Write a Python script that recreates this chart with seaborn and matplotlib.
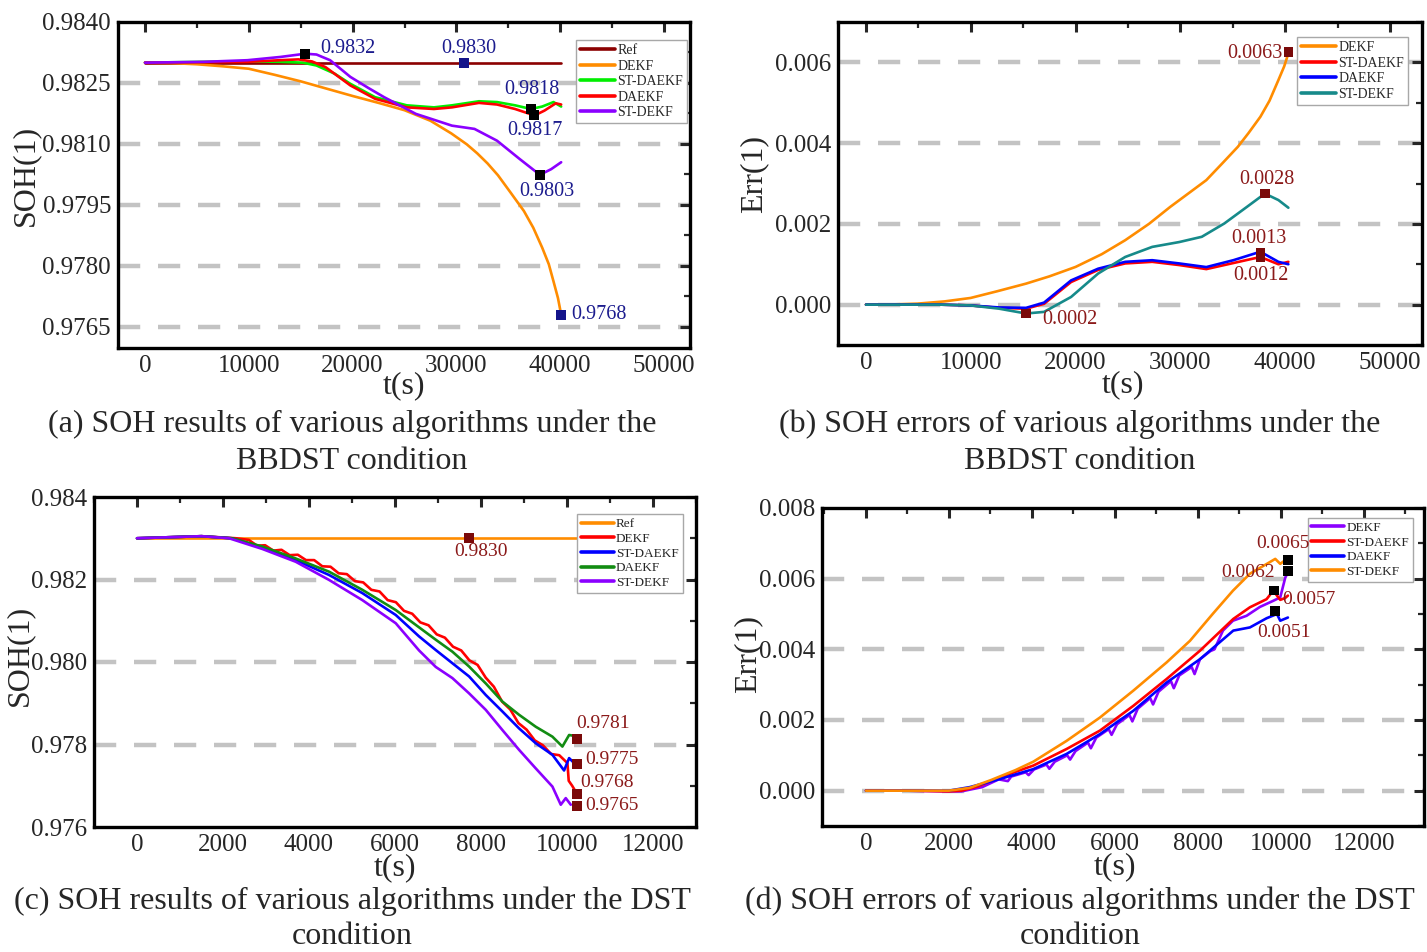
import numpy as np
import pandas as pd
import matplotlib
matplotlib.use("Agg")
import matplotlib.pyplot as plt
import seaborn as sns
from matplotlib.ticker import MultipleLocator, FormatStrFormatter

sns.set_style("white")
plt.rcParams['font.family'] = ['Liberation Serif', 'DejaVu Serif']
plt.rcParams['mathtext.fontset'] = 'stix'

# ---------------- Panel (a): SOH, BBDST ----------------
a_ref_t = [0, 40100]
a_ref_v = [0.98300, 0.98300]
a_dekf_t = [0, 2500, 5000, 7500, 10000, 12500, 15000, 17500, 20000, 22500, 25000, 27500, 29500,
            31000, 32000, 33000, 34000, 35200, 36500, 37400, 38260, 38900, 39350, 39780, 40090]
a_dekf_v = [0.98300, 0.98299, 0.98296, 0.98291, 0.98285, 0.98270, 0.98254, 0.98236, 0.98218, 0.98201,
            0.98183, 0.98157, 0.98126, 0.98099, 0.98077, 0.98052, 0.98023, 0.97981, 0.97935, 0.97894,
            0.97845, 0.97804, 0.97762, 0.97721, 0.97680]
a_stdaekf_t = [0, 5650, 9870, 13000, 15200, 16520, 18260, 19780, 22170, 25220, 27830, 29570, 32170,
               33910, 35650, 37180, 38260, 39350, 40090]
a_stdaekf_v = [0.98300, 0.98302, 0.98303, 0.98302, 0.98300, 0.98293, 0.98273, 0.98248, 0.98215, 0.98195,
               0.98190, 0.98195, 0.98205, 0.98203, 0.98195, 0.98186, 0.98192, 0.98203, 0.98192]
a_daekf_t = [0, 5650, 9870, 13000, 14780, 16090, 17390, 19780, 22170, 25220, 27830, 29570, 32170,
             33910, 35650, 37520, 38480, 39570, 40090]
a_daekf_v = [0.98300, 0.98301, 0.98302, 0.98306, 0.98308, 0.98303, 0.98289, 0.98244, 0.98211, 0.98190,
             0.98186, 0.98190, 0.98201, 0.98197, 0.98186, 0.98170, 0.98182, 0.98200, 0.98197]
a_stdekf_t = [0, 5650, 9870, 13040, 15440, 16520, 17830, 19780, 21500, 23040, 26090, 29570, 31740,
              33910, 36090, 38040, 39130, 40090]
a_stdekf_v = [0.98300, 0.98302, 0.98306, 0.98314, 0.98322, 0.98320, 0.98306, 0.98265, 0.98238, 0.98215,
              0.98174, 0.98145, 0.98137, 0.98108, 0.98063, 0.98024, 0.98038, 0.98055]
a_mark_t = [15440, 30750, 37180, 37520, 38040, 40090]
a_mark_v = [0.98322, 0.98300, 0.98186, 0.98170, 0.98024, 0.97680]
a_mark_c = ['black', '#14148a', 'black', 'black', 'black', '#14148a']
a_lab = ['0.9832', '0.9830', '0.9818', '0.9817', '0.9803', '0.9768']
a_lab_t = [16870, 31230, 37310, 37600, 38660, 41070]
a_lab_v = [0.98336, 0.98334, 0.98233, 0.98132, 0.97982, 0.97680]
a_lab_ha = ['left', 'center', 'center', 'center', 'center', 'left']

# ---------------- Panel (b): Err, BBDST ----------------
b_dekf_t = [0, 2500, 4950, 7500, 9980, 12500, 15270, 17500, 20000, 22500, 24730, 27000, 29030, 31000,
            32470, 34000, 35480, 36500, 37630, 38500, 39350, 39900, 40300]
b_dekf_v = [0.0, 0.000005, 0.000025, 0.00008, 0.000165, 0.00033, 0.00052, 0.00070, 0.000934, 0.00125,
            0.001595, 0.00200, 0.002421, 0.00280, 0.003083, 0.00350, 0.003909, 0.00425, 0.004653,
            0.00505, 0.005562, 0.00590, 0.006223]
b_stdaekf_t = [0, 7000, 9980, 12690, 15270, 16990, 19570, 22150, 24730, 27310, 29890, 32470, 35050,
               37630, 39350, 40300]
b_stdaekf_v = [0.0, 0.0, -0.00002, -0.00008, -0.00010, 0.00002, 0.00056, 0.00086, 0.00102, 0.00106,
               0.00098, 0.00088, 0.00103, 0.00118, 0.00100, 0.00106]
b_daekf_t = [0, 7000, 9980, 12690, 15270, 16990, 19570, 22150, 24730, 27310, 29890, 32470, 35050,
             37630, 39350, 40300]
b_daekf_v = [0.0, 0.0, -0.00002, -0.00007, -0.00008, 0.00005, 0.00060, 0.00089, 0.00106, 0.00110,
             0.00102, 0.00093, 0.00110, 0.00131, 0.00106, 0.00100]
b_stdekf_t = [0, 7000, 9980, 12690, 15270, 16990, 19570, 22150, 24730, 27310, 29890, 32040, 34190,
              36340, 38060, 39350, 40300]
b_stdekf_v = [0.0, 0.0, -0.00002, -0.00010, -0.00022, -0.00018, 0.00019, 0.00077, 0.00118, 0.00143,
              0.00155, 0.00168, 0.00201, 0.00242, 0.00275, 0.00259, 0.00240]
b_mark_t = [40300, 38060, 37630, 37630, 15270]
b_mark_v = [0.00625, 0.00275, 0.00128, 0.00118, -0.00022]
b_lab = ['0.0063', '0.0028', '0.0013', '0.0012', '0.0002']
b_lab_t = [39780, 38250, 37500, 37680, 16790]
b_lab_v = [0.00622, 0.00309, 0.00163, 0.00072, -0.00037]
b_lab_ha = ['right', 'center', 'center', 'center', 'left']

# ---------------- Panel (c): SOH, DST ----------------
c_ref_t = [0, 10300]
c_ref_v = [0.98300, 0.98300]
c_dekf_t = [0, 1500, 2300, 2600, 2790, 2980, 3170, 3360, 3550, 3740, 3930, 4120, 4310, 4500, 4690,
            4880, 5070, 5260, 5450, 5640, 5830, 6020, 6210, 6400, 6590, 6780, 6970, 7160, 7350,
            7540, 7730, 7920, 8110, 8300, 8490, 8680, 8870, 9060, 9250, 9440, 9630, 9820, 9960,
            10010, 10040, 10120, 10200]
c_dekf_v = [0.98300, 0.98305, 0.98300, 0.98296, 0.98282, 0.98283, 0.98270, 0.98272, 0.98259, 0.98260,
            0.98247, 0.98247, 0.98232, 0.98231, 0.98215, 0.98213, 0.98196, 0.98193, 0.98175, 0.98171,
            0.98150, 0.98145, 0.98124, 0.98117, 0.98096, 0.98089, 0.98067, 0.98059, 0.98037, 0.98028,
            0.98004, 0.97993, 0.97962, 0.97940, 0.97904, 0.97885, 0.97852, 0.97836, 0.97810, 0.97798,
            0.97777, 0.97774, 0.97760, 0.97755, 0.97712, 0.97700, 0.97686]
c_stdaekf_t = [0, 1500, 2200, 2915, 3691, 4466, 5241, 6017, 6560, 6948, 7335, 7723, 8111, 8498, 8886,
               9274, 9661, 9932, 10049, 10166]
c_stdaekf_v = [0.98300, 0.98305, 0.98300, 0.98278, 0.98247, 0.98211, 0.98167, 0.98114, 0.98062, 0.98029,
               0.97997, 0.97965, 0.97920, 0.97880, 0.97839, 0.97803, 0.97775, 0.97737, 0.97767, 0.97755]
c_daekf_t = [0, 1500, 2200, 2915, 3691, 4466, 5241, 6017, 6560, 6948, 7335, 7723, 8111, 8498, 8886,
             9274, 9661, 9893, 10049, 10166]
c_daekf_v = [0.98300, 0.98305, 0.98300, 0.98280, 0.98251, 0.98219, 0.98175, 0.98126, 0.98084, 0.98054,
             0.98025, 0.97989, 0.97948, 0.97904, 0.97872, 0.97843, 0.97819, 0.97795, 0.97823, 0.97821]
c_stdekf_t = [0, 1500, 2140, 2915, 3691, 4466, 5241, 6017, 6560, 6948, 7335, 7723, 8111, 8498, 8886,
              9274, 9661, 9855, 9971, 10088]
c_stdekf_v = [0.98300, 0.98305, 0.98300, 0.98274, 0.98243, 0.98199, 0.98150, 0.98094, 0.98028, 0.97988,
              0.97961, 0.97924, 0.97884, 0.97835, 0.97787, 0.97742, 0.97698, 0.97654, 0.97670, 0.97654]
c_mark_t = [7720, 10235, 10235, 10235, 10235]
c_mark_v = [0.98300, 0.97813, 0.97753, 0.97680, 0.97651]
c_lab = ['0.9830', '0.9781', '0.9775', '0.9768', '0.9765']
c_lab_t = [8000, 10840, 10420, 10300, 10420]
c_lab_v = [0.98267, 0.97850, 0.97763, 0.97707, 0.97653]
c_lab_ha = ['center', 'center', 'left', 'left', 'left']

# ---------------- Panel (d): Err, DST ----------------
d_dekf_t = [0, 1000, 2000, 2300, 2800, 3200, 3420, 3500, 3850, 3920, 4050, 4350, 4420, 4550, 4850,
            4920, 5050, 5350, 5420, 5550, 5850, 5920, 6050, 6350, 6420, 6550, 6850, 6920, 7050,
            7350, 7420, 7550, 7850, 7920, 8050, 8300, 8400, 8604, 8845, 9174, 9495, 9810, 9985,
            10106, 10146]
d_dekf_v = [0.0, 0.0, -0.00002, -0.00002, 0.00010, 0.00032, 0.00027, 0.00040, 0.00052, 0.00044,
            0.00060, 0.00074, 0.00062, 0.00082, 0.00100, 0.00088, 0.00112, 0.00136, 0.00120, 0.00150,
            0.00174, 0.00158, 0.00188, 0.00214, 0.00196, 0.00232, 0.00262, 0.00244, 0.00280, 0.00310,
            0.00290, 0.00326, 0.00350, 0.00330, 0.00372, 0.00395, 0.00400, 0.00453, 0.00481, 0.00495,
            0.00520, 0.00537, 0.00547, 0.00603, 0.00612]
d_stdaekf_t = [0, 1000, 2000, 2300, 2700, 3229, 4033, 4836, 5639, 6443, 7246, 8049, 8853, 9254, 9656,
               9816, 9985, 10100, 10170]
d_stdaekf_v = [0.0, 0.0, -0.00002, 0.0, 0.00012, 0.00038, 0.00071, 0.00118, 0.00170, 0.00240, 0.00316,
               0.00396, 0.00486, 0.00519, 0.00542, 0.00566, 0.00540, 0.00545, 0.00552]
d_daekf_t = [0, 1000, 2000, 2500, 3229, 4033, 4836, 5639, 6443, 7246, 8049, 8853, 9254, 9656, 9905,
             9985, 10170]
d_daekf_v = [0.0, 0.0, 0.0, 0.00010, 0.00033, 0.00061, 0.00104, 0.00160, 0.00226, 0.00306, 0.00372,
             0.00453, 0.00462, 0.00488, 0.00500, 0.00481, 0.00490]
d_stdekf_t = [0, 1000, 2000, 2500, 3013, 3600, 4033, 4836, 5639, 6443, 7246, 7808, 8363, 8845, 9254,
              9664, 9865, 9985, 10146]
d_stdekf_v = [0.0, 0.0, 0.0, 0.00008, 0.00030, 0.00058, 0.00082, 0.00141, 0.00207, 0.00283, 0.00363,
              0.00424, 0.00501, 0.00566, 0.00614, 0.00642, 0.00656, 0.00642, 0.00656]
d_mark_t = [10170, 10170, 9830, 9860]
d_mark_v = [0.00653, 0.00622, 0.00566, 0.00509]
d_lab = ['0.0065', '0.0062', '0.0057', '0.0051']
d_lab_t = [10050, 9205, 10030, 10070]
d_lab_v = [0.00699, 0.00617, 0.00540, 0.00447]
d_lab_ha = ['center', 'center', 'left', 'center']

captions = [
    ("(a) SOH results of various algorithms under the", "BBDST condition"),
    ("(b) SOH errors of various algorithms under the", "BBDST condition"),
    ("(c) SOH results of various algorithms under the DST", "condition"),
    ("(d) SOH errors of various algorithms under the DST", "condition"),
]

# ---------------- Figure ----------------
W, H = 1427, 952
fig = plt.figure(figsize=(W / 100, H / 100), dpi=100)


def px_axes(l, r, t, b):
    return fig.add_axes([l / W, 1 - b / H, (r - l) / W, (b - t) / H])


ORANGE = '#ff8c00'
RED = '#ff0000'
BLUE = '#0000ff'
GREEN_BRIGHT = '#00ee00'
GREEN = '#128c12'
PURPLE = '#8b00ff'
DARKRED = '#8b0000'
TEAL = '#168a8a'
LAB_BLUE = '#1c1c8e'
LAB_RED = '#8b1a1a'
LW = 1.9


def style_axes(ax, xlim, ylim, xmaj, xmin, ymaj, ymin, yfmt, grid_vals):
    ax.set_xlim(*xlim)
    ax.set_ylim(*ylim)
    ax.xaxis.set_major_locator(MultipleLocator(xmaj))
    ax.xaxis.set_minor_locator(MultipleLocator(xmin))
    ax.yaxis.set_major_locator(MultipleLocator(ymaj))
    ax.yaxis.set_minor_locator(MultipleLocator(ymin))
    ax.yaxis.set_major_formatter(FormatStrFormatter(yfmt))
    ax.tick_params(which='major', direction='in', length=7, width=2.2, top=True, right=True,
                   labelsize=18, pad=5)
    ax.tick_params(which='minor', direction='in', length=4, width=1.6, top=True, right=True)
    for s in ax.spines.values():
        s.set_linewidth(2.4)
        s.set_color('black')
    for g in grid_vals:
        ax.axhline(g, color='#c3c3c3', lw=3.2, ls=(0, (5, 4)), zorder=0.5)


def line(ax, t, v, color, label):
    sns.lineplot(x=t, y=v, ax=ax, color=color, lw=LW, label=label, estimator=None, sort=False)


def legend(ax, anchor, fs=10.0):
    leg = ax.legend(loc='upper right', bbox_to_anchor=anchor, fontsize=fs, frameon=True,
                    fancybox=False, framealpha=1, edgecolor='#a8a8a8', handlelength=2.5,
                    handletextpad=0.15, borderpad=0.3, labelspacing=0.18, borderaxespad=0)
    leg.get_frame().set_linewidth(1.0)
    for h in leg.get_lines():
        h.set_linewidth(2.6)


def marks(ax, t, v, colors):
    sns.scatterplot(x=t, y=v, ax=ax, marker='s', s=48, color=colors, edgecolor='none',
                    zorder=5, legend=False)


def labels(ax, t, v, texts, has, color, fs):
    for x, y, s, ha in zip(t, v, texts, has):
        ax.text(x, y, s, ha=ha, va='center', color=color, fontsize=fs, zorder=6)


# (a)
ax = px_axes(118, 690, 22, 348)
line(ax, a_ref_t, a_ref_v, DARKRED, 'Ref')
line(ax, a_dekf_t, a_dekf_v, ORANGE, 'DEKF')
line(ax, a_stdaekf_t, a_stdaekf_v, GREEN_BRIGHT, 'ST-DAEKF')
line(ax, a_daekf_t, a_daekf_v, RED, 'DAEKF')
line(ax, a_stdekf_t, a_stdekf_v, PURPLE, 'ST-DEKF')
sns.scatterplot(x=a_mark_t, y=a_mark_v, ax=ax, marker='s', s=52, hue=a_lab,
                palette=dict(zip(a_lab, a_mark_c)), edgecolor='none', zorder=5, legend=False)
labels(ax, a_lab_t, a_lab_v, a_lab, a_lab_ha, LAB_BLUE, 14.5)
style_axes(ax, (-2600, 52500), (0.97598, 0.9840), 10000, 5000, 0.0015, 0.00075, '%.4f',
           [0.9765, 0.9780, 0.9795, 0.9810, 0.9825])
legend(ax, (0.995, 0.945))
ax.set_xlabel('t(s)', fontsize=23)
ax.set_ylabel('SOH(1)', fontsize=23)
ax.xaxis.set_label_coords(0.5, -0.07)
ax.yaxis.set_label_coords(-0.136, 0.53)

# (b)
ax = px_axes(838, 1422, 22, 345)
line(ax, b_dekf_t, b_dekf_v, ORANGE, 'DEKF')
line(ax, b_stdaekf_t, b_stdaekf_v, RED, 'ST-DAEKF')
line(ax, b_daekf_t, b_daekf_v, BLUE, 'DAEKF')
line(ax, b_stdekf_t, b_stdekf_v, TEAL, 'ST-DEKF')
marks(ax, b_mark_t, b_mark_v, '#7a0a0a')
labels(ax, b_lab_t, b_lab_v, b_lab, b_lab_ha, LAB_RED, 14.5)
style_axes(ax, (-2670, 53050), (-0.001, 0.007), 10000, 5000, 0.002, 0.001, '%.3f',
           [0.0, 0.002, 0.004, 0.006])
legend(ax, (0.976, 0.954))
ax.set_xlabel('t(s)', fontsize=23)
ax.set_ylabel('Err(1)', fontsize=23)
ax.xaxis.set_label_coords(0.488, -0.078)
ax.yaxis.set_label_coords(-0.12, 0.53)

# (c)
ax = px_axes(94, 696, 497, 827)
line(ax, c_ref_t, c_ref_v, ORANGE, 'Ref')
line(ax, c_dekf_t, c_dekf_v, RED, 'DEKF')
line(ax, c_stdaekf_t, c_stdaekf_v, BLUE, 'ST-DAEKF')
line(ax, c_daekf_t, c_daekf_v, GREEN, 'DAEKF')
line(ax, c_stdekf_t, c_stdekf_v, PURPLE, 'ST-DEKF')
marks(ax, c_mark_t, c_mark_v, '#7a0a0a')
labels(ax, c_lab_t, c_lab_v, c_lab, c_lab_ha, LAB_RED, 14)
style_axes(ax, (-1000, 13000), (0.976, 0.984), 2000, 1000, 0.002, 0.001, '%.3f',
           [0.978, 0.980, 0.982])
legend(ax, (0.978, 0.948), fs=9.5)
ax.set_xlabel('t(s)', fontsize=23)
ax.set_ylabel('SOH(1)', fontsize=23)
ax.xaxis.set_label_coords(0.5, -0.08)
ax.yaxis.set_label_coords(-0.1, 0.52)

# (d)
ax = px_axes(822, 1424, 508, 826)
line(ax, d_dekf_t, d_dekf_v, PURPLE, 'DEKF')
line(ax, d_stdaekf_t, d_stdaekf_v, RED, 'ST-DAEKF')
line(ax, d_daekf_t, d_daekf_v, BLUE, 'DAEKF')
line(ax, d_stdekf_t, d_stdekf_v, ORANGE, 'ST-DEKF')
marks(ax, d_mark_t, d_mark_v, 'black')
labels(ax, d_lab_t, d_lab_v, d_lab, d_lab_ha, LAB_RED, 14)
style_axes(ax, (-1060, 13450), (-0.001, 0.008), 2000, 1000, 0.002, 0.001, '%.3f',
           [0.0, 0.002, 0.004, 0.006])
legend(ax, (0.982, 0.969), fs=9.5)
ax.set_xlabel('t(s)', fontsize=23)
ax.set_ylabel('Err(1)', fontsize=23)
ax.xaxis.set_label_coords(0.487, -0.084)
ax.yaxis.set_label_coords(-0.1, 0.54)

# captions
cap_pos = [(352, 424, 461), (1080, 424, 461), (352, 901, 937), (1080, 901, 937)]
for (l1, l2), (cx, y1, y2) in zip(captions, cap_pos):
    fig.text(cx / W, 1 - y1 / H, l1, ha='center', va='center', fontsize=23)
    fig.text(cx / W, 1 - y2 / H, l2, ha='center', va='center', fontsize=23)

fig.savefig('out.png', dpi=100)
